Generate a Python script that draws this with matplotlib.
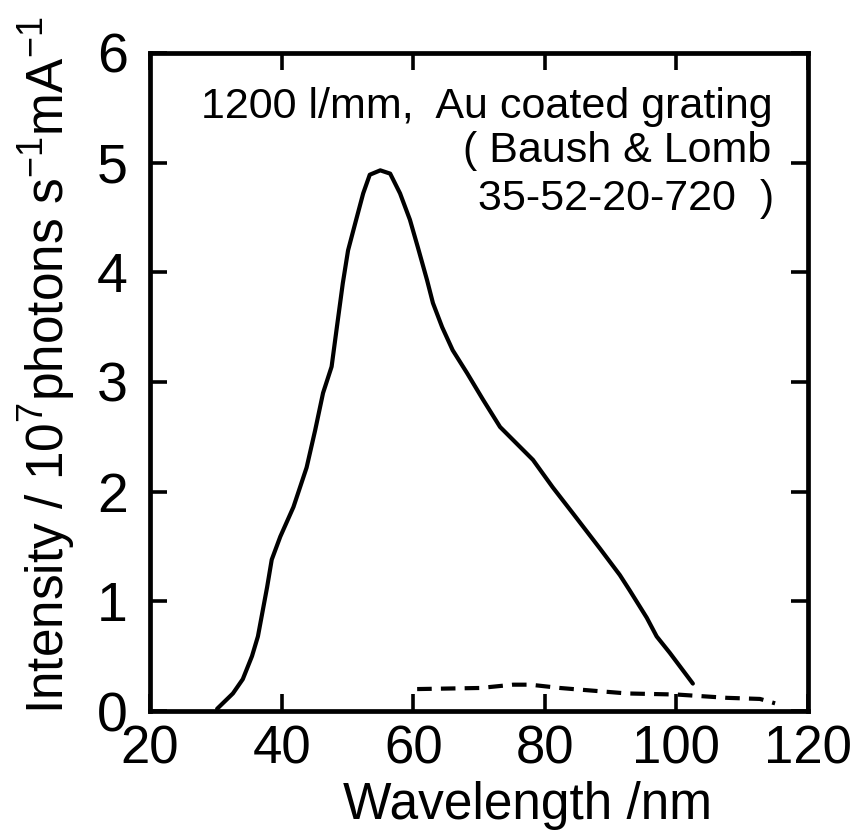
import matplotlib
matplotlib.use("Agg")
import matplotlib.pyplot as plt

# grating efficiency curve (solid) and background level (dashed)
wavelength_nm = [30.2, 32.6, 34.1, 35.5, 36.4, 37.8, 38.5, 39.8, 41.8, 42.8,
                 43.8, 45.1, 46.3, 47.6, 48.4, 49.3, 50.1, 51.2, 52.4, 53.4,
                 55.0, 56.5, 58.0, 59.5, 60.7, 62.1, 63.0, 64.4, 66.0, 68.2,
                 70.6, 73.2, 76.2, 78.2, 81.2, 84.3, 88.4, 91.4, 92.9, 95.5,
                 97.0, 99.0, 102.5]
intensity = [0.02, 0.16, 0.29, 0.50, 0.68, 1.13, 1.38, 1.59, 1.86, 2.04,
             2.22, 2.56, 2.90, 3.14, 3.50, 3.90, 4.20, 4.45, 4.72, 4.89,
             4.93, 4.90, 4.72, 4.48, 4.23, 3.93, 3.72, 3.50, 3.29, 3.08,
             2.84, 2.59, 2.41, 2.29, 2.04, 1.80, 1.48, 1.24, 1.10, 0.85,
             0.68, 0.53, 0.25]

background_nm = [60.6, 70.2, 75.2, 77.8, 82.3, 84.3, 92.5, 100.1, 107.7, 112.7, 115.0]
background = [0.20, 0.21, 0.24, 0.24, 0.21, 0.20, 0.16, 0.15, 0.12, 0.11, 0.07]

x_ticks = [20, 40, 60, 80, 100, 120]
y_ticks = [0, 1, 2, 3, 4, 5, 6]

FONT = ["Liberation Sans", "DejaVu Sans"]
plt.rcParams["font.family"] = FONT
plt.rcParams["mathtext.fontset"] = "custom"
plt.rcParams["mathtext.rm"] = "Liberation Sans"
plt.rcParams["mathtext.it"] = "Liberation Sans"
plt.rcParams["mathtext.bf"] = "Liberation Sans"

fig = plt.figure(figsize=(8.55, 8.36), dpi=100)
ax = fig.add_axes([150 / 855, 1 - 711 / 836, 658 / 855, 658 / 836])

ax.plot(wavelength_nm, intensity, color="black", lw=3.0,
        solid_capstyle="round", solid_joinstyle="round")
ax.plot(background_nm, background, color="black", lw=3.0,
        dashes=(3.5, 2.2), dash_capstyle="butt")

ax.set_xlim(20, 120)
ax.set_ylim(0, 6)
ax.set_xticks(x_ticks)
ax.set_yticks(y_ticks)
ax.set_xticklabels([str(v) for v in x_ticks], fontsize=38)
ax.set_yticklabels([str(v) for v in y_ticks], fontsize=40)
ax.tick_params(direction="in", top=True, right=True, length=12, width=2.6)
ax.tick_params(axis="x", pad=10)
ax.tick_params(axis="y", pad=16)
for spine in ax.spines.values():
    spine.set_linewidth(3.4)

ax.set_xlabel("Wavelength /nm", fontsize=37)
ax.xaxis.set_label_coords(0.574, -0.106)
ax.set_ylabel(r"Intensity / 10$^{7}$photons s$^{-1}$mA$^{-1}$", fontsize=37)
ax.yaxis.set_label_coords(-0.109, 0.526)

ann = dict(transform=ax.transAxes, fontsize=31, va="baseline", ha="center")
ax.text((487 - 150) / 658, (711 - 118) / 658, "1200 l/mm,  Au coated grating", **ann)
ax.text((617 - 150) / 658, (711 - 162) / 658, "( Baush & Lomb", **ann)
ax.text((626 - 150) / 658, (711 - 210) / 658, "35-52-20-720  )", **ann)

fig.savefig("out.png", dpi=100)
